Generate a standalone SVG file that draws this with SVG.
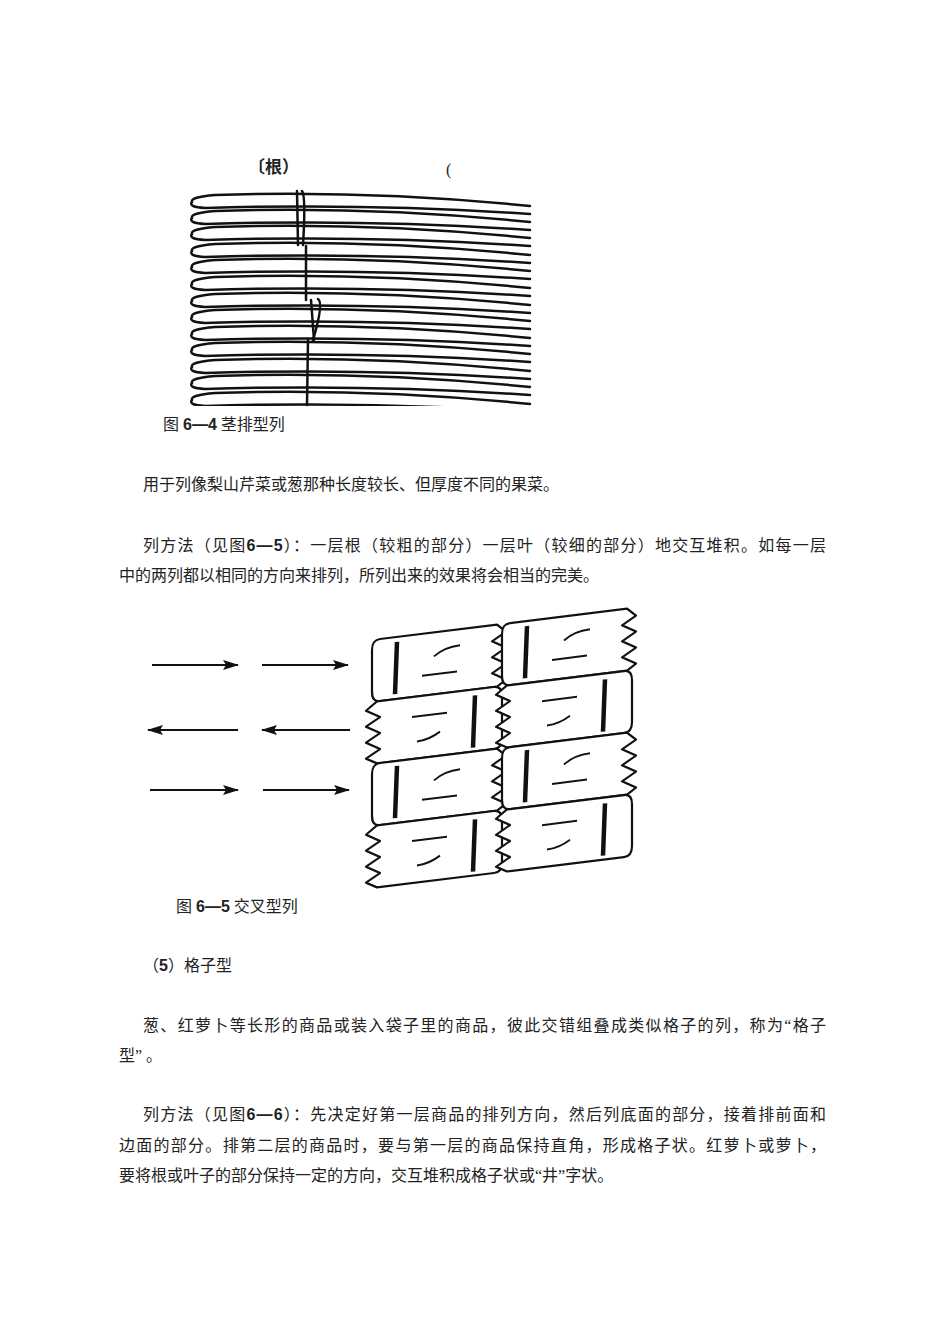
<svg xmlns="http://www.w3.org/2000/svg" xmlns:xlink="http://www.w3.org/1999/xlink" width="950" height="1344" viewBox="0 0 950 1344">
<style>
.t{font-family:"Liberation Serif","Noto Sans CJK SC",serif;font-size:16px;fill:#222}
.b{font-family:"Liberation Sans","Noto Sans CJK SC",sans-serif;font-weight:bold}
.ink{fill:none;stroke:#111;stroke-width:2.5;stroke-linecap:round;stroke-linejoin:round}
.cell{fill:#fff;stroke:#111;stroke-width:2.2;stroke-linejoin:round}
.bar{stroke:#111;stroke-width:4.5}
.dash{fill:none;stroke:#111;stroke-width:2}
.arr{stroke:#111;stroke-width:2}
</style>
<defs>
<path id="stalk" class="ink" d="M530 10 Q370 -6 215 -1 Q190 1 192 6 Q188 11 205 12 Q370 7 530 18"/>
<marker id="ah" markerWidth="16" markerHeight="10" refX="15" refY="5" orient="auto" markerUnits="userSpaceOnUse"><path d="M0 0 L16 5 L0 10 L3 5 Z" fill="#111"/></marker>
<g id="cellA"><path class="cell" d="M8 0 L125 0 L134 8 L120 16 L134 24 L120 32 L134 40 L120 48 L134 56 L125 62 L8 62 Q0 62 0 52 L0 10 Q0 0 8 0 Z"/><line class="bar" x1="25" y1="5" x2="23" y2="57"/><path class="dash" d="M62 24 Q72 16 88 16 M50 42 L85 42"/></g>
<g id="cellB"><path class="cell" d="M5 0 L122 0 Q130 0 130 10 L130 52 Q130 62 122 62 L5 62 L-6 56 L8 48 L-6 40 L8 32 L-6 24 L8 16 L-6 8 Z"/><line class="bar" x1="103" y1="6" x2="101" y2="58"/><path class="dash" d="M40 20 L75 20 M45 45 Q57 45 68 38"/></g>
<clipPath id="c1"><rect x="185" y="185" width="350" height="221"/></clipPath>
</defs>
<rect width="950" height="1344" fill="#fff"/>
<g id="fig64">
<text class="b" x="248" y="173" font-size="17" fill="#222">〔根）</text>
<text class="t" x="446" y="175" font-size="14">(</text>
<g clip-path="url(#c1)">
<use href="#stalk" y="196"/><use href="#stalk" y="212"/><use href="#stalk" y="228"/><use href="#stalk" y="245"/><use href="#stalk" y="261"/><use href="#stalk" y="278"/><use href="#stalk" y="295"/><use href="#stalk" y="311"/><use href="#stalk" y="328"/><use href="#stalk" y="344"/><use href="#stalk" y="361"/><use href="#stalk" y="377"/><use href="#stalk" y="394"/>
</g>
<path class="ink" stroke-width="4" d="M297 191 L298 245 M306 246 L306 300 M311 300 L314 340 M308 340 L307 405"/>
<path class="ink" stroke-width="1.5" d="M302 191 Q306 196 303 245 M318 299 Q324 303 313 340"/>
<text class="t" x="163" y="430" font-size="15">图 <tspan class="b">6—4</tspan> 茎排型列</text>
</g>
<text class="t" x="143" y="490">用于列像梨山芹菜或葱那种长度较长、但厚度不同的果菜。</text>
<text class="t" x="143" y="551" textLength="683">列方法（见图<tspan class="b">6—5</tspan>）：一层根（较粗的部分）一层叶（较细的部分）地交互堆积。如每一层</text>
<text class="t" x="119" y="581">中的两列都以相同的方向来排列，所列出来的效果将会相当的完美。</text>
<g id="arrows">
<line class="arr" x1="152" y1="665" x2="238" y2="665" marker-end="url(#ah)"/>
<line class="arr" x1="262" y1="665" x2="348" y2="665" marker-end="url(#ah)"/>
<line class="arr" x1="238" y1="730" x2="148" y2="730" marker-end="url(#ah)"/>
<line class="arr" x1="350" y1="730" x2="262" y2="730" marker-end="url(#ah)"/>
<line class="arr" x1="150" y1="790" x2="238" y2="790" marker-end="url(#ah)"/>
<line class="arr" x1="263" y1="790" x2="349" y2="790" marker-end="url(#ah)"/>
</g>
<g id="fig65" transform="translate(372,640) skewY(-7)">
<use href="#cellA" x="0" y="0"/><use href="#cellA" x="130" y="0"/>
<use href="#cellB" x="0" y="62"/><use href="#cellB" x="130" y="62"/>
<use href="#cellA" x="0" y="124"/><use href="#cellA" x="130" y="124"/>
<use href="#cellB" x="0" y="186"/><use href="#cellB" x="130" y="186"/>
</g>
<text class="t" x="176" y="912" font-size="15">图 <tspan class="b">6—5</tspan> 交叉型列</text>
<text class="t" x="143" y="971">（<tspan class="b">5</tspan>）格子型</text>
<text class="t" x="143" y="1031" textLength="683">葱、红萝卜等长形的商品或装入袋子里的商品，彼此交错组叠成类似格子的列，称为“格子</text>
<text class="t" x="119" y="1061">型” 。</text>
<text class="t" x="143" y="1120" textLength="683">列方法（见图<tspan class="b">6—6</tspan>）：先决定好第一层商品的排列方向，然后列底面的部分，接着排前面和</text>
<text class="t" x="119" y="1151" textLength="707">边面的部分。排第二层的商品时，要与第一层的商品保持直角，形成格子状。红萝卜或萝卜，</text>
<text class="t" x="119" y="1181">要将根或叶子的部分保持一定的方向，交互堆积成格子状或“井”字状。</text>
</svg>
